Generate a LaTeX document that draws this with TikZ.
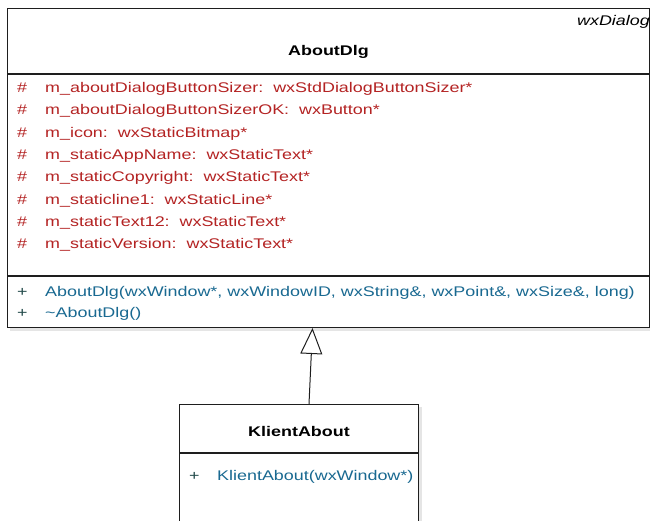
\documentclass[tikz,border=0pt]{standalone}
\usepackage{fontspec}
\setmainfont{Liberation Sans}[FakeStretch=1.28]
\usetikzlibrary{positioning,arrows.meta,backgrounds}

\definecolor{attrred}{RGB}{180,35,35}
\definecolor{opblue}{RGB}{25,105,145}
\definecolor{plusink}{RGB}{35,75,75}
\definecolor{umlline}{RGB}{30,30,30}

\tikzset{
  compart/.style={draw=umlline, line width=1pt, fill=white, anchor=north west, inner sep=0pt},
  member/.style={anchor=west, inner sep=0pt, text height=10pt, text depth=3pt,
    font=\fontsize{14}{17}\selectfont},
  clsname/.style={inner sep=0pt, font=\fontsize{14}{17}\selectfont\bfseries},
  inherits/.style={draw=umlline, line width=1pt,
    -{Triangle[open, length=26pt, width=22pt, fill=white]}},
}
\newcommand{\scopesym}[1]{\makebox[28pt][l]{#1}}

\begin{document}
\begin{tikzpicture}[x=1pt,y=-1pt]
\useasboundingbox (0,0) rectangle (650,520);

% AboutDlg class
\node[compart, minimum width=642pt, minimum height=65pt] (dlghead) at (7,8) {};
\node[compart, minimum width=642pt, minimum height=201pt, below=0pt of dlghead.south west, anchor=north west] (dlgattr) {};
\node[compart, minimum width=642pt, minimum height=51pt, below=0pt of dlgattr.south west, anchor=north west] (dlgops) {};

\node[inner sep=0pt, anchor=east, font=\fontsize{14}{17}\selectfont\itshape] (dlgbase) at ([yshift=-14pt]dlghead.north east) {wxDialog};
\node[clsname] (dlgname) at ([yshift=-44pt]dlghead.north) {AboutDlg};

\foreach \attr [count=\i] in {
    m\_aboutDialogButtonSizer:~~wxStdDialogButtonSizer*,
    m\_aboutDialogButtonSizerOK:~~wxButton*,
    m\_icon:~~wxStaticBitmap*,
    m\_staticAppName:~~wxStaticText*,
    m\_staticCopyright:~~wxStaticText*,
    m\_staticline1:~~wxStaticLine*,
    m\_staticText12:~~wxStaticText*,
    m\_staticVersion:~~wxStaticText*}
  \node[member, text=attrred] (attr\i) at ([xshift=10pt, yshift={-15pt-22.3pt*(\i-1)}]dlgattr.north west) {\scopesym{\#}\attr};

\node[member, text=opblue] (dlgop1) at ([xshift=10pt, yshift=-17pt]dlgops.north west)
  {\scopesym{\textcolor{plusink}{+}}AboutDlg(wxWindow*, wxWindowID, wxString\&, wxPoint\&, wxSize\&, long)};
\node[member, text=opblue] (dlgop2) at ([xshift=10pt, yshift=-38pt]dlgops.north west)
  {\scopesym{\textcolor{plusink}{+}}\textasciitilde AboutDlg()};

% KlientAbout class
\node[compart, minimum width=239pt, minimum height=48pt] (klhead) at (179,404) {};
\node[compart, minimum width=239pt, minimum height=130pt, below=0pt of klhead.south west, anchor=north west] (klops) {};
\node[clsname] (klname) at ([yshift=-3pt]klhead.center) {KlientAbout};
\node[member, text=opblue] (klop1) at ([xshift=10pt, yshift=-24pt]klops.north west)
  {\scopesym{\textcolor{plusink}{+}}KlientAbout(wxWindow*)};

\begin{scope}[on background layer]
  \fill[black!10] ([shift={(3pt,-3pt)}]dlghead.north west) rectangle ([shift={(3pt,-3pt)}]dlgops.south east);
  \fill[black!10] ([shift={(3pt,-3pt)}]klhead.north west) rectangle ([shift={(3pt,-3pt)}]klops.south east);
\end{scope}

% generalisation
\draw[inherits] ([xshift=10pt]klhead.north) -- ([xshift=-16pt]dlgops.south);
\end{tikzpicture}
\end{document}
